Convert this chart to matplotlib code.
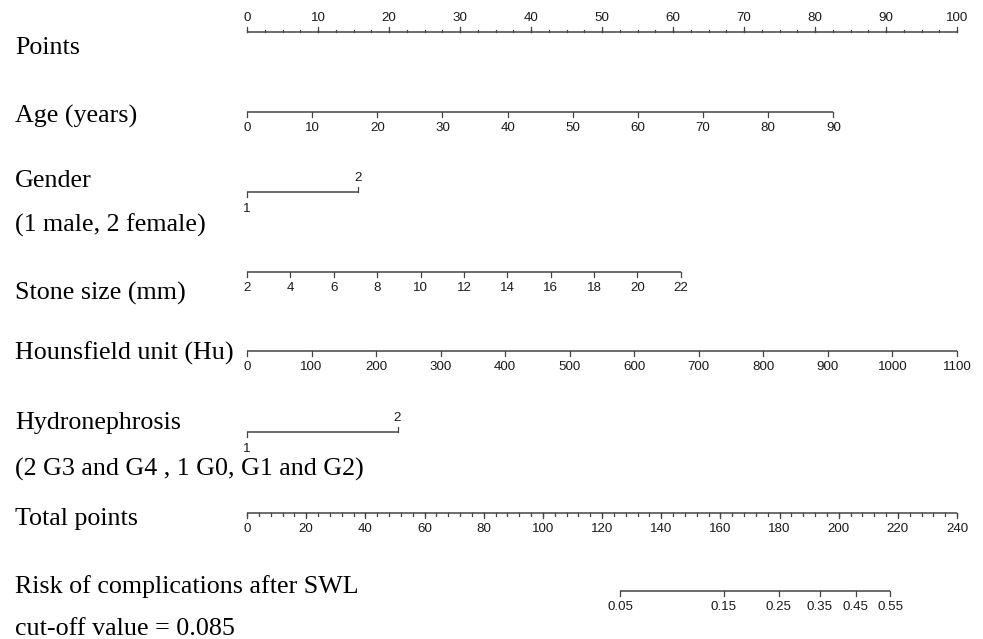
import numpy as np
import matplotlib.pyplot as plt

# points contributed by each predictor at its extreme value
points_ticks = np.arange(0, 101, 10)
points_minor = np.arange(0, 100.1, 2.5)

age_ticks = np.arange(0, 91, 10)
age_max_points = 82.6          # points at age 90

gender_levels = [1, 2]
gender_points = [0, 15.6]

stone_ticks = np.arange(2, 23, 2)
stone_max_points = 61.1        # points at 22 mm

hu_ticks = np.arange(0, 1101, 100)
hu_max_points = 100.0          # points at 1100 Hu

hydro_levels = [1, 2]
hydro_points = [0, 21.2]

total_ticks = np.arange(0, 241, 20)
total_minor = np.arange(0, 241, 4)

risk_ticks = [0.05, 0.15, 0.25, 0.35, 0.45, 0.55]
risk_labels = ["0.05", "0.15", "0.25", "0.35", "0.45", "0.55"]
risk_total_at_005 = 126.1      # total points where risk = 0.05
risk_pts_per_logit = 29.03

labels = [
    ("Points", 45),
    ("Age (years)", 113),
    ("Gender", 178),
    ("(1 male, 2 female)", 222),
    ("Stone size (mm)", 290),
    ("Hounsfield unit (Hu)", 350),
    ("Hydronephrosis", 420),
    ("(2 G3 and G4 , 1 G0, G1 and G2)", 466),
    ("Total points", 516),
    ("Risk of complications after SWL", 584),
    ("cut-off value = 0.085", 626),
]

LINE = "#444444"
TXT = "#1a1a1a"
SANS = "Liberation Sans"
SERIF = "Liberation Serif"
TICK_FS = 9.6

W, H = 983, 639
fig = plt.figure(figsize=(W / 100, H / 100), dpi=100)
ax = fig.add_axes([0, 0, 1, 1])
# x in "points" units: 0 -> px 247, 100 -> px 957 ; y in pixel rows
x0, x100 = 247, 957
ppp = (x100 - x0) / 100
ax.set_xlim(-x0 / ppp, (W - x0) / ppp)
ax.set_ylim(H, 0)
ax.axis("off")


def axis_line(xs, y, labels_, side, major=5, minor_xs=None, minor=2.5):
    d = -1 if side == "up" else 1
    ax.plot([min(xs), max(xs)], [y, y], color=LINE, lw=1.1, solid_capstyle="butt")
    if minor_xs is not None:
        for mx in minor_xs:
            ax.plot([mx, mx], [y, y + d * minor], color=LINE, lw=0.9)
    for xv, lab in zip(xs, labels_):
        ax.plot([xv, xv], [y, y + d * major], color=LINE, lw=0.9)
        ty = y - 14 if side == "up" else y + 16
        ax.text(xv, ty, lab, ha="center", va="center", fontsize=TICK_FS,
                family=SANS, color=TXT)


# Points
axis_line(points_ticks, 32, [str(v) for v in points_ticks], "up",
          minor_xs=points_minor)

# Age
axis_line(age_ticks * age_max_points / 90, 112, [str(v) for v in age_ticks], "down")

# Stone size
axis_line((stone_ticks - 2) * stone_max_points / 20, 272,
          [str(v) for v in stone_ticks], "down")

# Hounsfield
axis_line(hu_ticks * hu_max_points / 1100, 351, [str(v) for v in hu_ticks], "down")


def binary_axis(pts, levels, y):
    ax.plot(pts, [y, y], color=LINE, lw=1.1, solid_capstyle="butt")
    ax.plot([pts[0], pts[0]], [y, y + 5], color=LINE, lw=0.9)
    ax.plot([pts[1], pts[1]], [y, y - 5], color=LINE, lw=0.9)
    ax.text(pts[0], y + 17, str(levels[0]), ha="center", va="center",
            fontsize=TICK_FS, family=SANS, color=TXT)
    ax.text(pts[1], y - 14, str(levels[1]), ha="center", va="center",
            fontsize=TICK_FS, family=SANS, color=TXT)


binary_axis(gender_points, gender_levels, 192)
binary_axis(hydro_points, hydro_levels, 432)

# Total points
scale_total = 100 / 240
axis_line(total_ticks * scale_total, 513, [str(v) for v in total_ticks], "down",
          minor_xs=total_minor * scale_total)

# Risk
logit = lambda p: np.log(p / (1 - p))
risk_total = [risk_total_at_005 + risk_pts_per_logit * (logit(p) - logit(0.05))
              for p in risk_ticks]
axis_line(np.array(risk_total) * scale_total, 591, risk_labels, "down")

for text, y in labels:
    ax.text(-(x0 - 15) / ppp, y + 3, text, ha="left", va="center", fontsize=18.7,
            family=SERIF, color="black")

fig.savefig("out.png", dpi=100)
